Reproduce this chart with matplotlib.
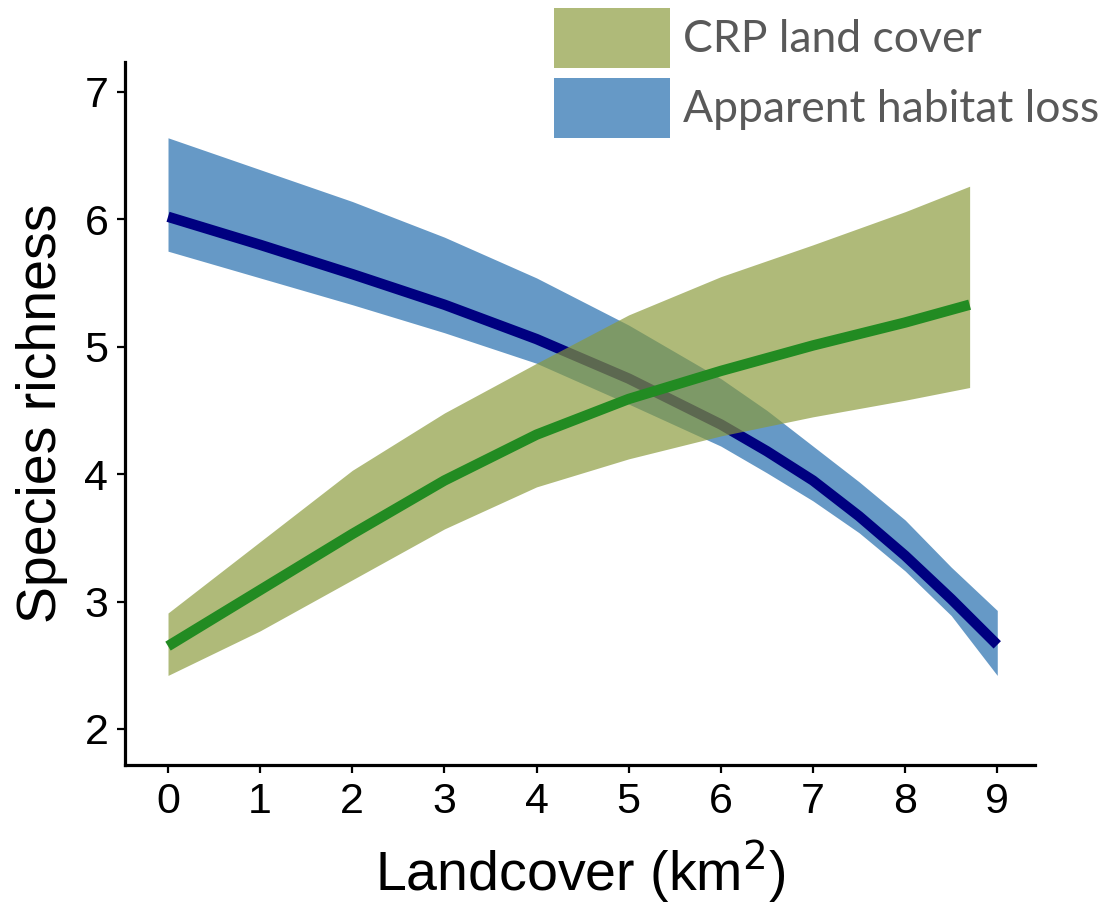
#!/usr/bin/env python3

import matplotlib
matplotlib.use('Agg')
import matplotlib.pyplot as plt
from matplotlib.patches import Patch


# apparent habitat loss (blue)
loss_x     = [0, 1, 2, 3, 4, 5, 6, 6.5, 7, 7.5, 8, 8.5, 9]
loss_fit   = [6.02, 5.80, 5.57, 5.33, 5.06, 4.75, 4.39, 4.18, 3.95, 3.67, 3.36, 3.02, 2.66]
loss_upper = [6.64, 6.39, 6.14, 5.86, 5.54, 5.17, 4.75, 4.50, 4.22, 3.94, 3.64, 3.27, 2.93]
loss_lower = [5.75, 5.54, 5.33, 5.11, 4.87, 4.55, 4.22, 4.01, 3.79, 3.54, 3.24, 2.89, 2.42]

# CRP land cover (green)
crp_x     = [0, 1, 2, 3, 4, 5, 6, 7, 8, 8.7]
crp_fit   = [2.65, 3.09, 3.53, 3.95, 4.31, 4.59, 4.81, 5.01, 5.19, 5.33]
crp_upper = [2.91, 3.47, 4.03, 4.48, 4.87, 5.25, 5.55, 5.80, 6.06, 6.26]
crp_lower = [2.42, 2.77, 3.17, 3.57, 3.90, 4.12, 4.30, 4.45, 4.58, 4.68]

x_ticks = list(range(10))
y_ticks = [2, 3, 4, 5, 6, 7]
legend_labels = ['CRP land cover', 'Apparent habitat loss']


def main():
  plt.rcParams['font.family'] = ['Liberation Sans', 'DejaVu Sans']

  fig = plt.figure(figsize=(11.07, 9.05), dpi=100)
  ax = fig.add_axes([0.1129, 0.1547, 0.935 - 0.1129, 0.9315 - 0.1547])

  blue = '#6699C6'
  olive = (137/255, 154/255, 58/255)

  ax.fill_between(loss_x, loss_lower, loss_upper, color=blue, lw=0, zorder=1)
  ax.plot(loss_x, loss_fit, color='#000080', lw=7.5, solid_capstyle='butt', zorder=2)
  ax.fill_between(crp_x, crp_lower, crp_upper, color=olive, alpha=0.68, lw=0, zorder=3)
  ax.plot(crp_x, crp_fit, color='#228B22', lw=7.5, solid_capstyle='butt', zorder=4)

  ax.set_xlim(-0.467, 9.41)
  ax.set_ylim(1.717, 7.235)
  ax.set_xticks(x_ticks)
  ax.set_yticks(y_ticks)

  for s in ['top', 'right']:
    ax.spines[s].set_visible(False)
  for s in ['left', 'bottom']:
    ax.spines[s].set_linewidth(2.3)
    ax.spines[s].set_color('black')

  ax.tick_params(axis='both', labelsize=31, length=6, width=1.6, pad=6, colors='black')

  ax.set_xlabel('Landcover (km$^2$)', fontsize=40, labelpad=12)
  ax.set_ylabel('Species richness', fontsize=40, labelpad=12)

  handles = [Patch(facecolor=olive, alpha=0.68, lw=0),
             Patch(facecolor=blue, lw=0)]
  leg = fig.legend(handles, legend_labels, loc='upper left',
                   bbox_to_anchor=(554/1107, 1 - 8/905), bbox_transform=fig.transFigure,
                   frameon=False, prop={'family': ['Lato', 'DejaVu Sans'], 'size': 32},
                   handlelength=2.6, handleheight=1.70, handletextpad=0.3,
                   labelspacing=0.225, borderpad=0, borderaxespad=0)
  for t in leg.get_texts():
    t.set_color('#595959')

  fig.savefig('out.png', dpi=100)


if __name__ == '__main__':
  main()
